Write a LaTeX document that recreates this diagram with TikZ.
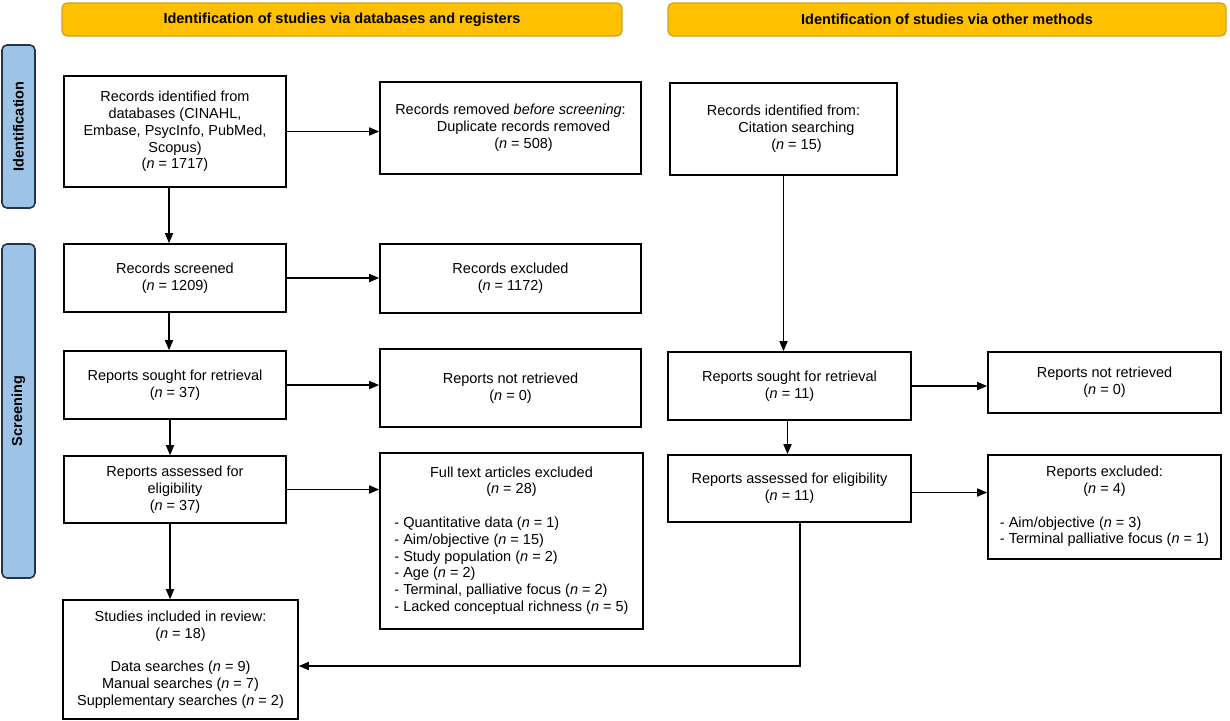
\documentclass[tikz,border=0pt]{standalone}
\usepackage{fontspec}
\setmainfont{Liberation Sans}
\usetikzlibrary{arrows.meta,calc}
\definecolor{hdrfill}{HTML}{FFC000}
\definecolor{hdrdraw}{HTML}{D0A020}
\definecolor{sidefill}{HTML}{9DC3E6}
\definecolor{sidedraw}{HTML}{25344A}
\tikzset{
  txt/.style={font=\fontsize{14.5pt}{16.8pt}\selectfont},
  box/.style={txt, draw=black, line width=1.6pt, fill=white, align=center, inner sep=2pt},
  hdr/.style={txt, font=\fontsize{14.5pt}{16.8pt}\selectfont\bfseries, draw=hdrdraw, fill=hdrfill, line width=1.2pt, rounded corners=5pt, minimum height=33pt},
  side/.style={txt, font=\fontsize{14.5pt}{16.8pt}\selectfont\bfseries, draw=sidedraw, fill=sidefill, line width=1.6pt, rounded corners=5pt, rotate=90, minimum height=33pt},
  arr/.style={-{Triangle[length=10pt,width=8pt]}, line width=1.6pt}
}
\begin{document}
\begin{tikzpicture}[x={(1pt,0pt)}, y={(0pt,-1pt)}]
\useasboundingbox (0,0) rectangle (1230,720);
% headers
\node[hdr, minimum width=560pt] (hdr1) at (342,19.5) {Identification of studies via databases and registers};
\node[hdr, minimum width=558pt] (hdr2) at (947,19.5) {Identification of studies via other methods};
% side labels
\node[side, minimum width=163pt] (sid1) at (18.5,126.5) {Identification};
\node[side, minimum width=334pt] (sid2) at (18.5,411) {Screening};
% left column
\node[box, minimum width=222pt, minimum height=111pt] (a1) at (175,131.5)
  {Records identified from\\databases (CINAHL,\\Embase, PsycInfo, PubMed,\\Scopus)\\(\textit{n} = 1717)};
\node[box, minimum width=261pt, minimum height=92pt] (a2) at (510.5,128)
  {Records removed \textit{before screening}:\\\hspace*{26pt}Duplicate records removed\\\hspace*{26pt}(\textit{n} = 508)};
\node[box, minimum width=222pt, minimum height=68pt] (a3) at (175,278)
  {Records screened\\(\textit{n} = 1209)};
\node[box, minimum width=261pt, minimum height=69pt] (a4) at (510.5,278.5)
  {Records excluded\\(\textit{n} = 1172)};
\node[box, minimum width=222pt, minimum height=68pt] (a5) at (175,385)
  {Reports sought for retrieval\\(\textit{n} = 37)};
\node[box, minimum width=261pt, minimum height=78pt] (a6) at (510.5,388)
  {Reports not retrieved\\(\textit{n} = 0)};
\node[box, minimum width=222pt, minimum height=67pt] (a7) at (175,489.5)
  {Reports assessed for\\eligibility\\(\textit{n} = 37)};
\node[box, minimum width=263pt, minimum height=176pt] (a8) at (511.5,541)
  {\begin{tabular}{@{}l@{}}
   \multicolumn{1}{@{}c@{}}{Full text articles excluded}\\
   \multicolumn{1}{@{}c@{}}{(\textit{n} = 28)}\\[16.8pt]
   - Quantitative data (\textit{n} = 1)\\
   - Aim/objective (\textit{n} = 15)\\
   - Study population (\textit{n} = 2)\\
   - Age (\textit{n} = 2)\\
   - Terminal, palliative focus (\textit{n} = 2)\\
   - Lacked conceptual richness (\textit{n} = 5)
   \end{tabular}};
\node[box, minimum width=235pt, minimum height=119pt] (a9) at (180.5,659.5)
  {Studies included in review:\\(\textit{n} = 18)\\[16.8pt]Data searches (\textit{n} = 9)\\Manual searches (\textit{n} = 7)\\Supplementary searches (\textit{n} = 2)};
% right column
\node[box, minimum width=227pt, minimum height=92pt] (b1) at (783.5,129)
  {Records identified from:\\\hspace*{26pt}Citation searching\\\hspace*{26pt}(\textit{n} = 15)};
\node[box, minimum width=243pt, minimum height=68pt] (b2) at (789.5,386)
  {Reports sought for retrieval\\(\textit{n} = 11)};
\node[box, minimum width=233pt, minimum height=61pt] (b3) at (1104.5,382.5)
  {Reports not retrieved\\(\textit{n} = 0)};
\node[box, minimum width=243pt, minimum height=67pt] (b4) at (789.5,488.5)
  {Reports assessed for eligibility\\(\textit{n} = 11)};
\node[box, minimum width=233pt, minimum height=104pt] (b5) at (1104.5,507)
  {\begin{tabular}{@{}l@{}}
   \multicolumn{1}{@{}c@{}}{Reports excluded:}\\
   \multicolumn{1}{@{}c@{}}{(\textit{n} = 4)}\\[16.8pt]
   - Aim/objective (\textit{n} = 3)\\
   - Terminal palliative focus (\textit{n} = 1)
   \end{tabular}};
% connectors
\draw[arr] (a1) -- (a1 -| a2.west);
\draw[arr] ([xshift=-6pt]a1.south) -- ([xshift=-6pt]a1.south |- a3.north);
\draw[arr] (a3) -- (a3 -| a4.west);
\draw[arr] ([xshift=-6pt]a3.south) -- ([xshift=-6pt]a3.south |- a5.north);
\draw[arr] (a5) -- (a5 -| a6.west);
\draw[arr] ([xshift=-5pt]a5.south) -- ([xshift=-5pt]a5.south |- a7.north);
\draw[arr] (a7) -- (a7 -| a8.west);
\draw[arr] ([xshift=-5pt]a7.south) -- ([xshift=-5pt]a7.south |- a9.north);
\draw[arr] (b1.south) -- (b1.south |- b2.north);
\draw[arr] (b2) -- (b2 -| b3.west);
\draw[arr] ([xshift=-2pt]b2.south) -- ([xshift=-2pt]b2.south |- b4.north);
\draw[arr] ([yshift=-4pt]b4.east) -- ([yshift=-4pt]b4.east -| b5.west);
\draw[arr] ([xshift=10.5pt]b4.south) |- ([yshift=-6.5pt]a9.east);
\end{tikzpicture}
\end{document}
